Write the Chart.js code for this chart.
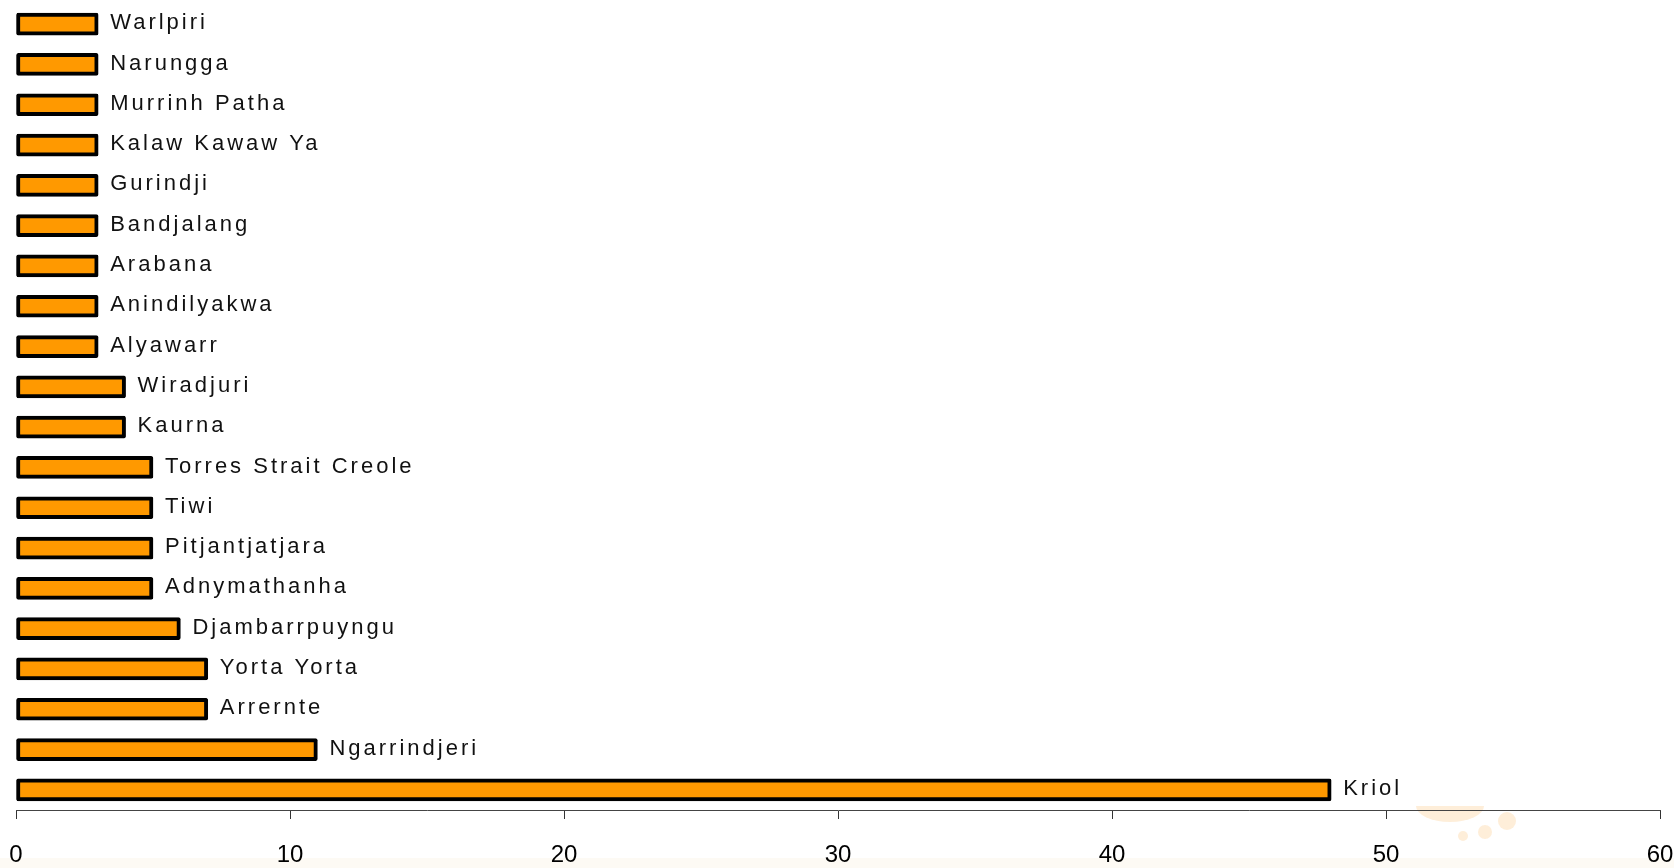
<!DOCTYPE html>
<html lang="en">

<head>
    <meta charset="UTF-8">
    <title>Languages</title>

    <style>
        html, body { margin: 0; padding: 0; background: #ffffff; }
        .chart-box { width: 1674px; height: 868px; position: relative; }
    </style>

    <script src="https://cdn.jsdelivr.net/npm/chart.js"></script>
</head>

<body>

    <div class="chart-box">
        <canvas id="lang-chart"></canvas>
    </div>

    <script type="text/javascript">
        // languages, top to bottom
        var languageList = [
            "Warlpiri", "Narungga", "Murrinh Patha", "Kalaw Kawaw Ya", "Gurindji",
            "Bandjalang", "Arabana", "Anindilyakwa", "Alyawarr", "Wiradjuri",
            "Kaurna", "Torres Strait Creole", "Tiwi", "Pitjantjatjara", "Adnymathanha",
            "Djambarrpuyngu", "Yorta Yorta", "Arrernte", "Ngarrindjeri", "Kriol"
        ];
        var countList = [3, 3, 3, 3, 3, 3, 3, 3, 3, 4, 4, 5, 5, 5, 5, 6, 7, 7, 11, 48];
        var xTicks = [0, 10, 20, 30, 40, 50, 60];

        // name written just past the end of each bar
        var barLabels = {
            id: "barLabels",
            afterDatasetsDraw: function (chart) {
                var ctx = chart.ctx;
                var meta = chart.getDatasetMeta(0);
                ctx.save();
                ctx.font = "22px 'Liberation Sans', Arial, sans-serif";
                ctx.letterSpacing = "3px";
                ctx.fillStyle = "#111111";
                ctx.textBaseline = "middle";
                ctx.textAlign = "left";
                meta.data.forEach(function (bar, i) {
                    ctx.fillText(languageList[i], bar.x + 12, bar.y - 1);
                });
                ctx.restore();
            }
        };

        // faint logo under the axis
        var faintLogo = {
            id: "faintLogo",
            beforeDraw: function (chart) {
                var ctx = chart.ctx;
                ctx.save();
                ctx.fillStyle = "#fdfaf4";
                ctx.fillRect(0, 858, chart.width, chart.height - 858);
                ctx.fillStyle = "rgba(252, 200, 130, 0.3)";
                ctx.beginPath();
                ctx.ellipse(1450, 806, 34, 16, 0, 0, Math.PI);
                ctx.fill();
                [[1463, 836, 5], [1485, 832, 7], [1507, 821, 9]].forEach(function (c) {
                    ctx.beginPath();
                    ctx.arc(c[0], c[1], c[2], 0, Math.PI * 2);
                    ctx.fill();
                });
                ctx.restore();
            }
        };

        new Chart(document.getElementById("lang-chart"), {
            type: "bar",
            data: {
                labels: languageList,
                datasets: [{
                    data: countList,
                    backgroundColor: "#ff9900",
                    borderColor: "#000000",
                    borderWidth: 4,
                    borderSkipped: false,
                    borderRadius: 2,
                    barThickness: 22
                }]
            },
            options: {
                indexAxis: "y",
                responsive: true,
                maintainAspectRatio: false,
                animation: false,
                layout: { padding: { left: 16, right: 14, top: 4, bottom: 0 } },
                plugins: {
                    legend: { display: false },
                    tooltip: { enabled: false }
                },
                scales: {
                    x: {
                        min: 0,
                        max: 60,
                        afterBuildTicks: function (axis) {
                            axis.ticks = xTicks.map(function (v) { return { value: v }; });
                        },
                        afterFit: function (axis) {
                            axis.height = 58;
                            axis.paddingLeft = 0;
                            axis.paddingRight = 0;
                        },
                        grid: {
                            drawOnChartArea: false,
                            drawTicks: true,
                            tickLength: 9,
                            color: "#333333"
                        },
                        border: { display: true, color: "#444444", width: 1 },
                        ticks: {
                            color: "#000000",
                            padding: 22,
                            maxRotation: 0,
                            font: { family: "'Liberation Sans', Arial, sans-serif", size: 24 }
                        }
                    },
                    y: {
                        display: false
                    }
                }
            },
            plugins: [faintLogo, barLabels]
        });
    </script>

</body>

</html>
